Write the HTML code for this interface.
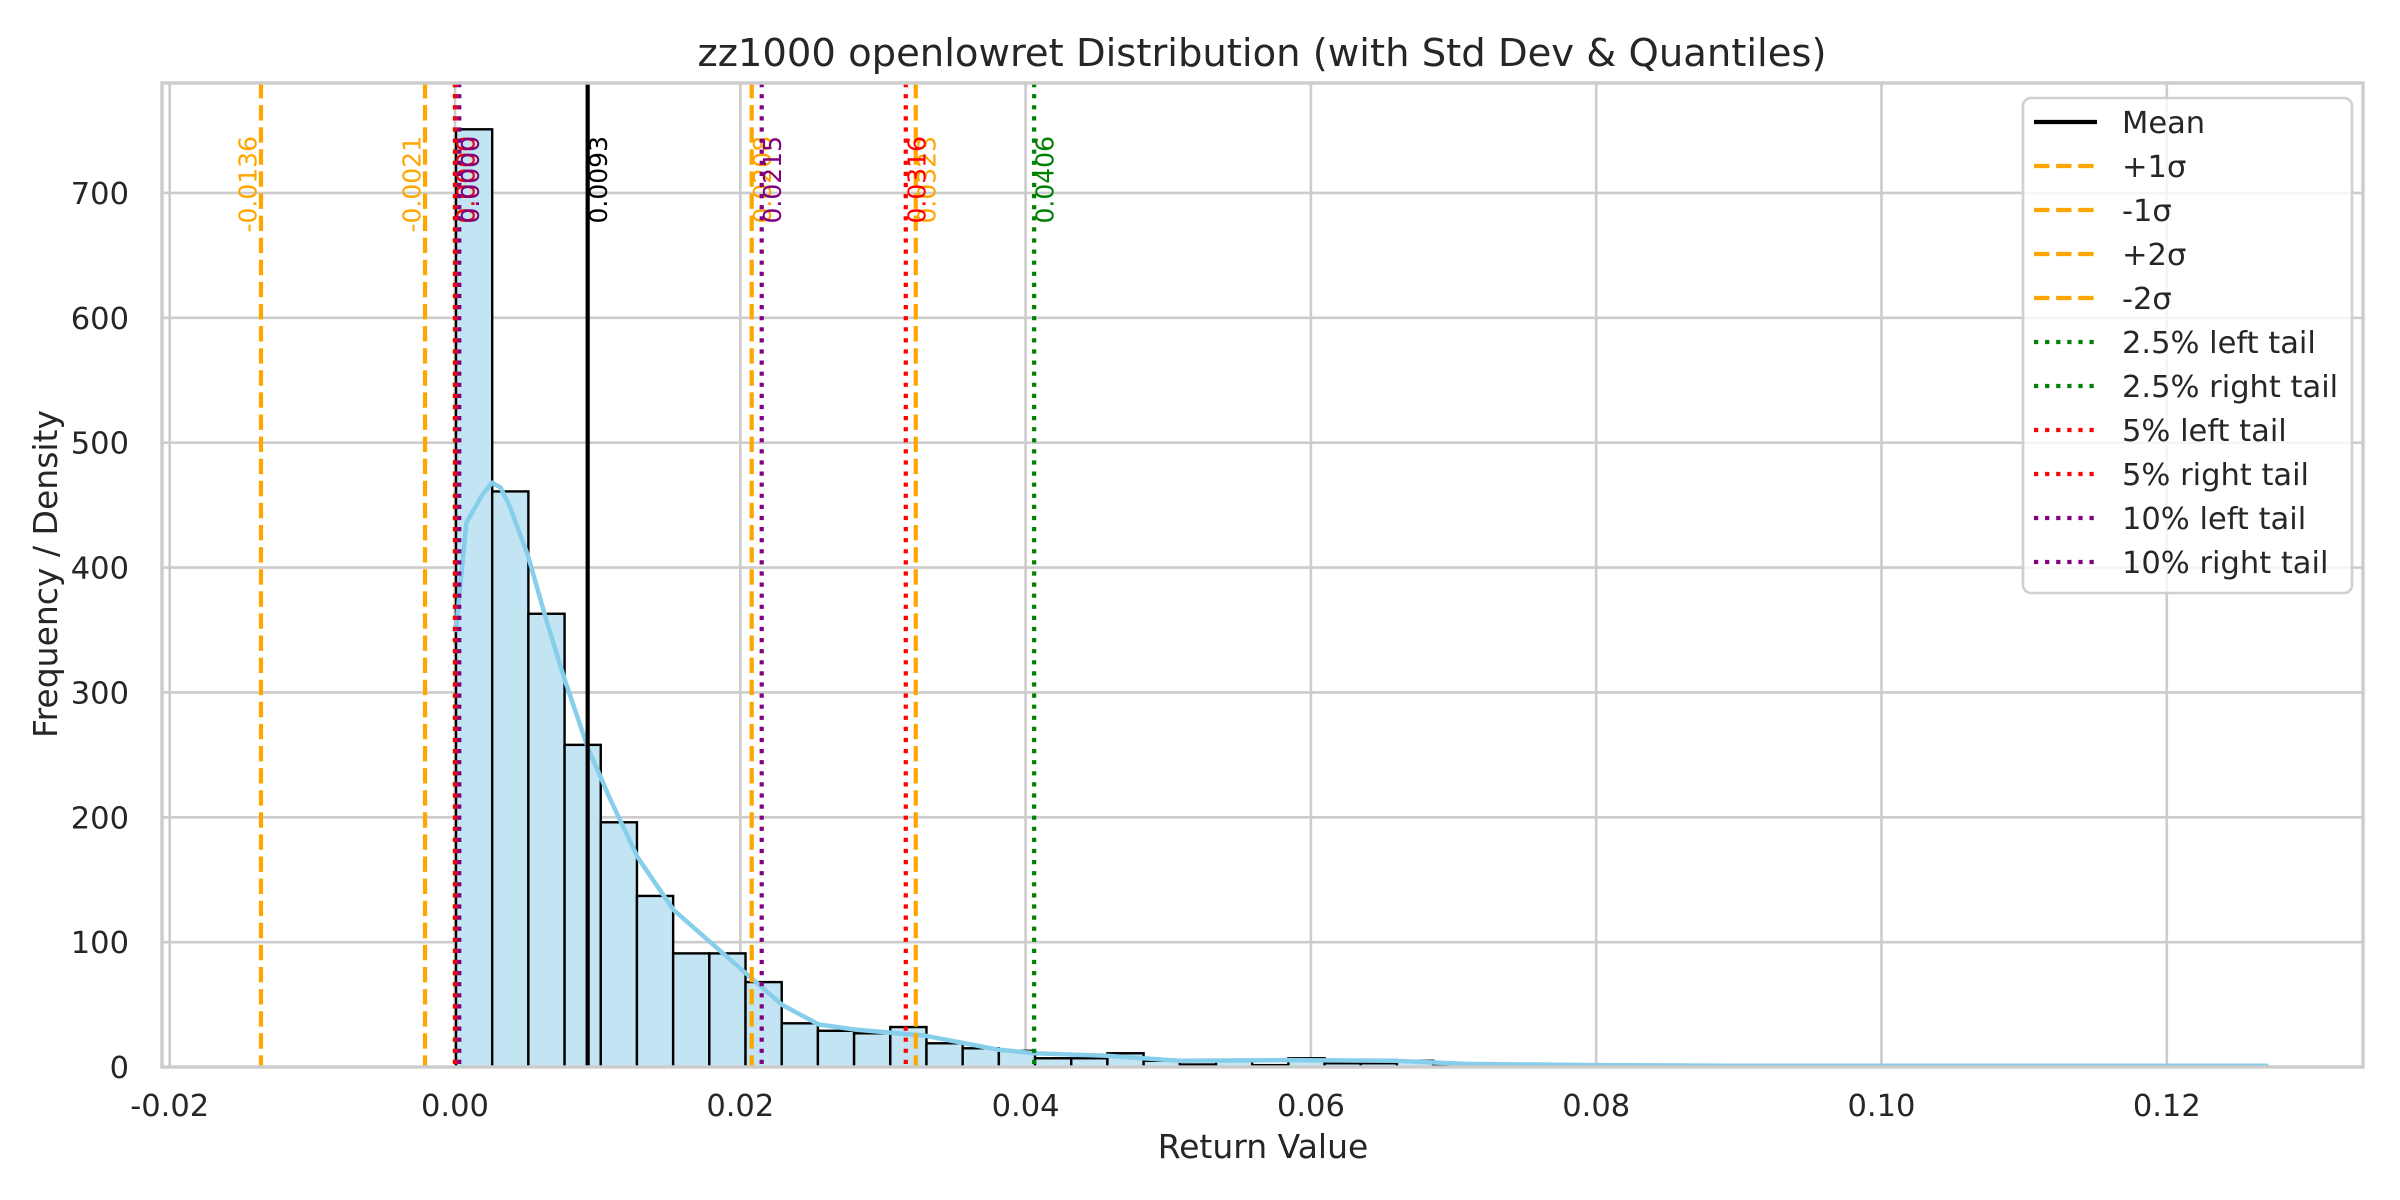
<!DOCTYPE html>
<html><head><meta charset="utf-8"><style>
html,body{margin:0;padding:0;background:#fff}
svg{display:block;font-family:"DejaVu Sans","Liberation Sans",sans-serif}
</style></head><body>
<svg id="chart" width="2400" height="1200" viewBox="0 0 2400 1200">
<rect width="2400" height="1200" fill="#fff"/>
<g id="grid"></g>
<g id="bars"></g>
<g id="kde"></g>
<g id="vlines"></g>
<g id="spines"></g>
<g id="ticks"></g>
<text x="1262" y="66" text-anchor="middle" font-size="38.5" fill="#262626">zz1000 openlowret Distribution (with Std Dev &amp; Quantiles)</text>
<text x="1263" y="1158" text-anchor="middle" font-size="33" fill="#262626">Return Value</text>
<text transform="translate(57,574) rotate(-90)" text-anchor="middle" font-size="33" fill="#262626">Frequency / Density</text>
<g id="legend"></g>
</svg>
<script>
const binStart = 0.00007;
const binWidth = 0.002537;
const counts = [751,461,363,258,196,137,91,91,68,35,29,27,32,19,15,13,7,7,11,5,2,5,1.5,7,3,3,5,
  2,1,1,1,1,1,0,1,1,0,1,0,1,1,0,0,1,0,0,0,0,0,1];
const kdeX = [0.00007,0.0008,0.0019,0.0026,0.0032,0.0038,0.0051,0.0064,0.0077,0.0093,0.0109,0.0128,0.0153,0.0178,0.0204,0.0229,0.0255,0.028,0.033,0.038,0.0406,0.0457,0.0508,0.0584,0.066,0.0709,0.08,0.09,0.10,0.11,0.127];
const kdeY = [350,436,458,468,464,450,410,358,310,256,214,168,126,101,75,50,34,30,25,14,11,9,5,5.5,5,2.5,1.5,1,1,1,1];
const xTicks = [-0.02,0,0.02,0.04,0.06,0.08,0.10,0.12];
const xTickLabels = ["-0.02","0.00","0.02","0.04","0.06","0.08","0.10","0.12"];
const yTicks = [0,100,200,300,400,500,600,700];
const refValues = [0.0093,0.0208,-0.0021,0.0323,-0.0136,0.0000,0.0406,0.0000,0.0316,0.0003,0.0215];
const refLabels = ["0.0093","0.0208","-0.0021","0.0323","-0.0136","0.0000","0.0406","0.0000","0.0316","0.0000","0.0215"];
const refNames = ["Mean","+1σ","-1σ","+2σ","-2σ","2.5% left tail","2.5% right tail","5% left tail","5% right tail","10% left tail","10% right tail"];
const refColors = ["#000","orange","orange","orange","orange","green","green","red","red","purple","purple"];
const refStyles = ["solid","dashed","dashed","dashed","dashed","dotted","dotted","dotted","dotted","dotted","dotted"];

const L=162,R=2363,T=83,B=1067;
const x0=455, pxPerUnit=14265, yPer=1.2486;
const X=v=>x0+v*pxPerUnit;
const Y=v=>B-v*yPer;
const NS="http://www.w3.org/2000/svg";
function mk(tag,attrs,parent){const e=document.createElementNS(NS,tag);for(const k in attrs)e.setAttribute(k,attrs[k]);parent.appendChild(e);return e;}
const dash={solid:"",dashed:"15.4 6.7",dotted:"4.2 6.9"};

const grid=document.getElementById('grid');
xTicks.forEach(t=>{const l=mk('line',{x1:X(t),x2:X(t),y1:T,y2:B,stroke:'#cccccc','stroke-width':2.6},grid);

});
yTicks.forEach(t=>{const l=mk('line',{x1:L,x2:R,y1:Y(t),y2:Y(t),stroke:'#cccccc','stroke-width':2.6},grid);

});

const bars=document.getElementById('bars');
counts.forEach((c,i)=>{const xa=X(binStart+i*binWidth),xb=X(binStart+(i+1)*binWidth);
const r=mk('rect',{x:xa,y:Y(c),width:xb-xa,height:B-Y(c),fill:'#c3e5f3',stroke:'#000','stroke-width':2.4},bars);

});

const kde=document.getElementById('kde');
let d=kdeX.map((v,i)=>(i?'L':'M')+X(v).toFixed(1)+','+Y(kdeY[i]).toFixed(1)).join(' ');
const kp=mk('path',{d:d,fill:'none',stroke:'#87ceeb','stroke-width':4.5,'stroke-linejoin':'round','stroke-linecap':'round'},kde);



const vl=document.getElementById('vlines');
refValues.forEach((v,i)=>{const ln=mk('line',{x1:X(v),x2:X(v),y1:T,y2:B,stroke:refColors[i],'stroke-width':4.2,'stroke-dasharray':dash[refStyles[i]]},vl);


const xc=X(v)+(v<0?-13:11);
const t=mk('text',{transform:'translate('+xc+',136) rotate(-90)','text-anchor':'end','dominant-baseline':'central','font-size':25,fill:refColors[i]},vl);
t.textContent=refLabels[i];

});

const sp=document.getElementById('spines');
const fr=mk('rect',{x:L,y:T,width:R-L,height:B-T,fill:'none',stroke:'#cccccc','stroke-width':3.4},sp);



const tk=document.getElementById('ticks');
xTicks.forEach((t,i)=>{const e=mk('text',{x:X(t),y:1116,'text-anchor':'middle','font-size':30.5,fill:'#262626'},tk);
e.textContent=xTickLabels[i];

});
yTicks.forEach(t=>{const e=mk('text',{x:129,y:Y(t)+11,'text-anchor':'end','font-size':30.5,fill:'#262626'},tk);
e.textContent=String(t);

});

const lg=document.getElementById('legend');
const box=mk('rect',{x:2023,y:98,width:329,height:495,rx:8,fill:'#fff','fill-opacity':0.8,stroke:'#d0d0d0','stroke-width':2.6},lg);


refNames.forEach((n,i)=>{const y=122+44*i;
const g=mk('g',{},lg);


mk('line',{x1:2034,x2:2097,y1:y,y2:y,stroke:refColors[i],'stroke-width':4.2,'stroke-dasharray':dash[refStyles[i]]},g);
const t=mk('text',{x:2122,y:y+11,'font-size':30.5,fill:'#262626'},g);
t.textContent=n;});
</script>
</body></html>
